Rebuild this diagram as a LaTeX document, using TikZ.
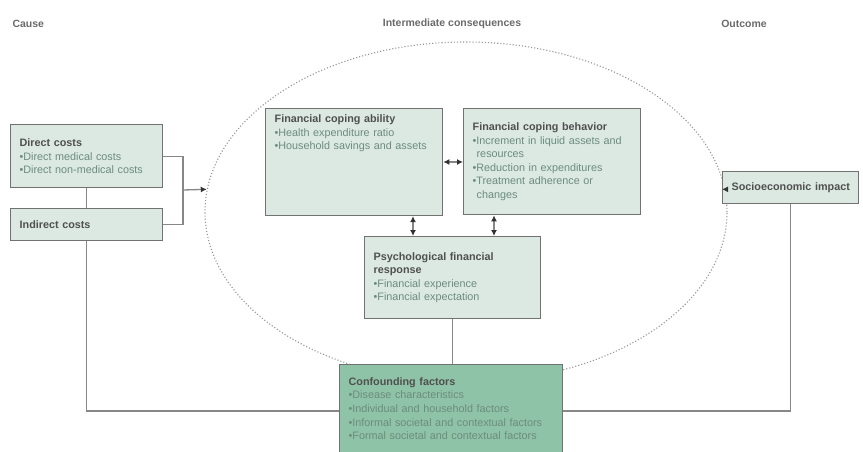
\documentclass[tikz,border=0pt]{standalone}
\usepackage{fontspec}
\setmainfont{Liberation Sans}
\usepackage{xcolor}
\usetikzlibrary{shapes.geometric,arrows.meta,positioning}
\definecolor{boxfill}{HTML}{DCE9E3}
\definecolor{darkfill}{HTML}{8FC3A7}
\definecolor{edge}{HTML}{727272}
\definecolor{tipcol}{HTML}{333333}
\definecolor{titletxt}{HTML}{505050}
\definecolor{itemtxt}{HTML}{6C8C7D}
\tikzset{
    box/.style={rectangle, draw=edge, line width=1.3pt, fill=boxfill, anchor=north west, align=left, inner xsep=9pt, inner ysep=6pt, text=itemtxt, font=\fontsize{10.8}{13.6}\selectfont},
    stage/.style={font=\bfseries\fontsize{10.5}{12}\selectfont, text=titletxt!85},
    link/.style={draw=edge!85, line width=1.3pt},
    flow/.style={link, -{Latex[length=6pt,width=6pt,color=tipcol]}},
    twoway/.style={link, {Latex[length=6pt,width=6pt,color=tipcol]}-{Latex[length=6pt,width=6pt,color=tipcol]}},
}
\newcommand{\hd}[1]{{\bfseries\color{titletxt}#1}}

\begin{document}
\begin{tikzpicture}[x=1pt, y=-1pt]
    \useasboundingbox (0,0) rectangle (863,452);

    \node[stage, anchor=west] (cause) at (9,24) {Cause};
    \node[stage] (inter) at (452,24) {Intermediate consequences};
    \node[stage] (outc) at (744,24) {Outcome};

    \node[ellipse, draw=edge!75, dotted, line width=1.1pt, minimum width=522pt, minimum height=340pt] (cons) at (466,212) {};

    \node[box, minimum width=152pt, minimum height=63pt, text width=134pt] (dc) at (10,124)
        {\hd{Direct costs}\\{\textbullet}Direct medical costs\\{\textbullet}Direct non-medical costs};
    \node[box, minimum width=152pt, minimum height=32pt, text width=134pt] (ic) at (10,208)
        {\hd{Indirect costs}};
    \node[box, minimum width=177pt, text width=159pt, text depth=87pt] (fca) at (265,108)
        {\hd{Financial coping ability}\\{\textbullet}Health expenditure ratio\\{\textbullet}Household savings and assets};
    \node[box, minimum width=177pt, minimum height=106pt, text width=159pt] (fcb) at (463,108)
        {\hd{Financial coping behavior}\\{\textbullet}Increment in liquid assets and\\\hspace*{4pt}resources\\{\textbullet}Reduction in expenditures\\{\textbullet}Treatment adherence or\\\hspace*{4pt}changes};
    \node[box, minimum width=176pt, minimum height=82pt, text width=158pt] (psy) at (364,236)
        {\hd{Psychological financial}\\\hd{response}\\{\textbullet}Financial experience\\{\textbullet}Financial expectation};
    \node[box, fill=darkfill, minimum width=223pt, minimum height=88pt, text width=205pt] (cf) at (339,364)
        {\hd{Confounding factors}\\{\textbullet}Disease characteristics\\{\textbullet}Individual and household factors\\{\textbullet}Informal societal and contextual factors\\{\textbullet}Formal societal and contextual factors};
    \node[box, minimum width=136pt, minimum height=32pt, inner xsep=9pt, text width=118pt] (se) at (722,171)
        {\mbox{\hd{Socioeconomic impact}}};

    % causes into the consequences
    \coordinate (brk) at (183,190);
    \draw[link] (dc.east) -| (brk) |- (ic.east);
    \draw[flow] (brk) -- (cons.175);
    \draw[link] (dc.south -| ic.north) -- (ic.north);

    % inside the consequences
    \draw[twoway] (fca.east |- 0,162) -- (fcb.west |- 0,162);
    \draw[twoway] (psy.north -| 413,0) -- (fca.south -| 413,0);
    \draw[twoway] (psy.north -| 494,0) -- (fcb.south -| 494,0);

    \draw[flow] (cons.5) -- (se.west |- cons.5);

    % confounding factors
    \draw[link] (psy.south) -- (psy.south |- cf.north);
    \draw[link] (ic.south) |- (cf.west |- 0,411);
    \draw[link] (se.south) |- (cf.east |- 0,411);
\end{tikzpicture}
\end{document}
